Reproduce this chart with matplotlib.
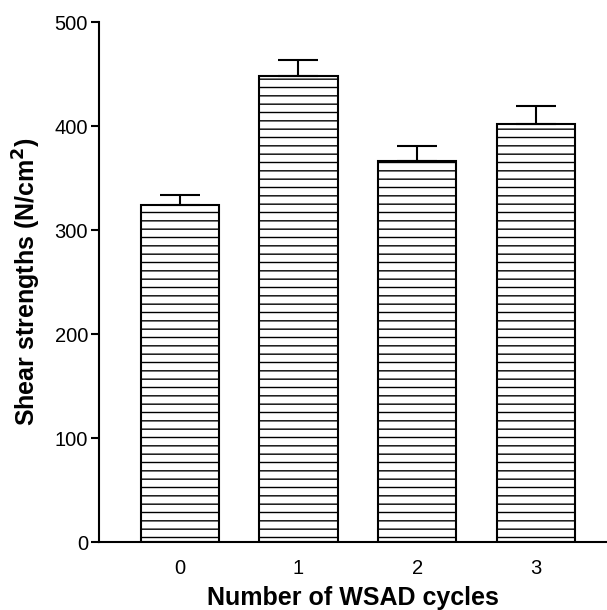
import numpy as np
import matplotlib
matplotlib.use("Agg")
import matplotlib.pyplot as plt

# data
cycles = ["0", "1", "2", "3"]
strength = [324, 448, 366, 402]
strength_err = [10, 15, 15, 17]

plt.rcParams['font.family'] = ['Liberation Sans', 'DejaVu Sans']
plt.rcParams['hatch.linewidth'] = 1.0
plt.rcParams['hatch.color'] = 'black'

fig = plt.figure(figsize=(6.07, 6.10), dpi=100)
ax = fig.add_axes([99/607, 1 - 542/610, 1 - 99/607, 520/610])

x = np.arange(len(cycles))
ax.bar(x, strength, width=0.66, color='white', edgecolor='black',
       linewidth=1.5, hatch='--', zorder=2)
ax.errorbar(x, strength, yerr=[np.zeros(len(strength)), strength_err],
            fmt='none', ecolor='black', elinewidth=1.5, capsize=14.5,
            capthick=1.5, zorder=3)

ax.set_xlim(-0.68, 3.6)
ax.set_ylim(0, 500)
ax.set_yticks([0, 100, 200, 300, 400, 500])
ax.set_xticks(x)
ax.set_xticklabels(cycles)

for side in ['top', 'right']:
    ax.spines[side].set_visible(False)
for side in ['left', 'bottom']:
    ax.spines[side].set_linewidth(1.5)

ax.tick_params(axis='y', length=6, width=1.5, pad=2, labelsize=14.5)
ax.tick_params(axis='x', length=0, pad=12, labelsize=14.5)

ax.set_xlabel('Number of WSAD cycles', fontsize=18, fontweight='bold', labelpad=6)
ax.set_ylabel('Shear strengths (N/cm$^\\mathbf{2}$)', fontsize=18, fontweight='bold', labelpad=8)

fig.savefig('out.png', dpi=100)
